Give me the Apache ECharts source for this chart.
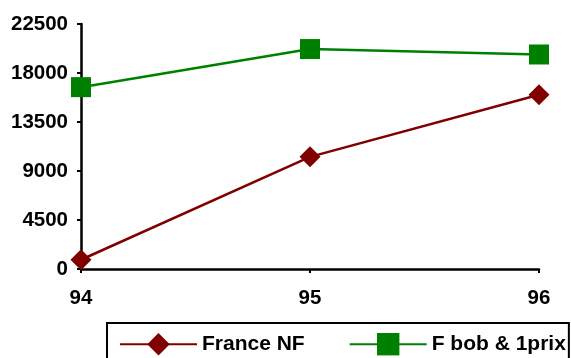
<!DOCTYPE html>
<html><head><meta charset="utf-8">
<script src="https://cdn.jsdelivr.net/npm/echarts@6/dist/echarts.min.js"></script>
<style>html,body{margin:0;padding:0;background:#fff}#c{width:571px;height:358px}</style>
</head><body><div id="c"></div>
<script>
const categories = ['94', '95', '96'];
const franceNF = [850, 10300, 16000];
const fBob1prix = [16700, 20200, 19700];
const seriesNames = ['France NF', 'F bob & 1prix'];

const chart = echarts.init(document.getElementById('c'), null, {renderer: 'canvas'});
const font = {fontFamily: 'Liberation Sans, Arial, sans-serif', fontWeight: 'bold', fontSize: 20.5, color: '#000'};
chart.setOption({
  animation: false,
  backgroundColor: '#fff',
  grid: {left: 81, right: 32, top: 24, bottom: 89},
  xAxis: {
    type: 'category', data: categories, boundaryGap: false,
    axisLine: {lineStyle: {color: '#000', width: 2.5}},
    axisTick: {show: true, length: 4, lineStyle: {color: '#000', width: 2}, alignWithLabel: true},
    axisLabel: Object.assign({margin: 19}, font),
    splitLine: {show: false}
  },
  yAxis: {
    type: 'value', min: 0, max: 22500, interval: 4500,
    axisLine: {show: true, lineStyle: {color: '#000', width: 2.5}},
    axisTick: {show: true, length: 4, lineStyle: {color: '#000', width: 2}},
    axisLabel: Object.assign({margin: 13, formatter: v => String(v)}, font),
    splitLine: {show: false}
  },
  legend: {
    left: 107, top: 323, width: 700,
    data: seriesNames,
    itemWidth: 77, itemHeight: 28, itemGap: 44,
    borderColor: '#000', borderWidth: 2, borderRadius: 0,
    padding: [10, 3, 20, 12],
    textStyle: Object.assign({padding: [0, 0, 0, 0]}, font, {fontSize: 21})
  },
  series: [
    {name: seriesNames[0], type: 'line', data: franceNF,
     symbol: 'diamond', symbolSize: 21,
     lineStyle: {color: '#800000', width: 2.5}, itemStyle: {color: '#800000'}},
    {name: seriesNames[1], type: 'line', data: fBob1prix,
     symbol: 'rect', symbolSize: 20,
     lineStyle: {color: '#008000', width: 2.5}, itemStyle: {color: '#008000'}}
  ]
});
</script></body></html>
